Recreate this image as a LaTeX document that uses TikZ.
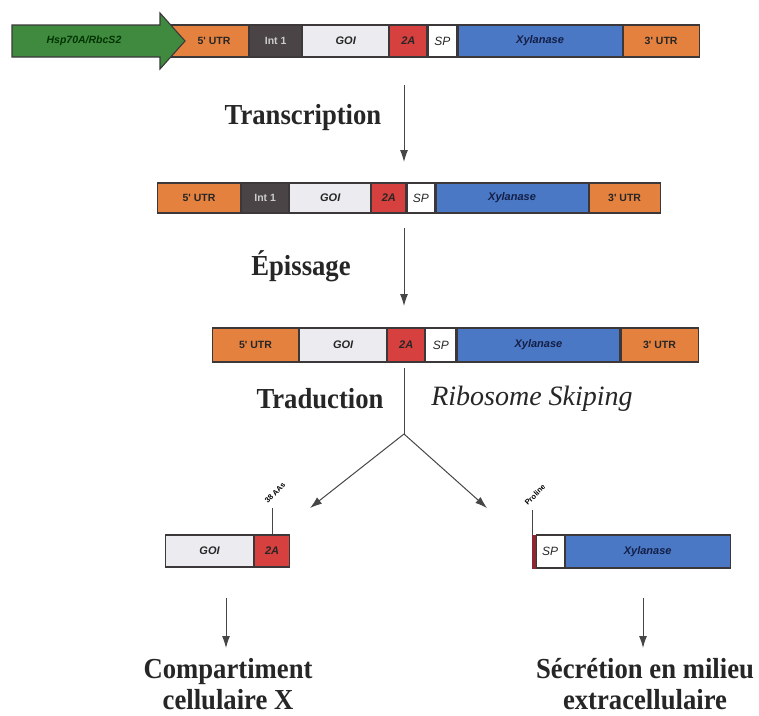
\documentclass[tikz,border=0pt]{standalone}
\usepackage{fontspec}
\setmainfont{Liberation Serif}
\newfontfamily\boxfont{Liberation Sans}
\newfontfamily\labfont[FakeStretch=0.92]{Liberation Serif}
\usetikzlibrary{arrows.meta}
\definecolor{utr}{RGB}{229,129,63}
\definecolor{intc}{RGB}{74,68,70}
\definecolor{goic}{RGB}{236,235,239}
\definecolor{twoa}{RGB}{214,64,62}
\definecolor{xylc}{RGB}{74,120,196}
\definecolor{promc}{RGB}{64,138,64}
\definecolor{edge}{RGB}{60,56,58}
\definecolor{linec}{RGB}{70,70,70}
\definecolor{navy}{RGB}{20,30,70}
\definecolor{strip}{RGB}{140,40,50}
\tikzset{
  seg/.style={draw=edge, line width=1.1pt, inner sep=0pt, anchor=west, font=\boxfont\bfseries\fontsize{10.5}{12}\selectfont, text=black!85},
  segi/.style={seg, font=\boxfont\bfseries\itshape\fontsize{11}{12}\selectfont},
  spbox/.style={seg, fill=white, font=\boxfont\itshape\fontsize{12}{12}\selectfont},
  flow/.style={draw=linec, line width=1pt, -{Latex[length=12pt,width=8pt]}},
  plain/.style={draw=linec, line width=1pt},
  biglab/.style={font=\labfont\bfseries\fontsize{29}{31}\selectfont, text=black!85, align=center, inner sep=0pt},
  tick/.style={draw=linec, line width=0.8pt},
  tinylab/.style={font=\boxfont\bfseries\fontsize{7.5}{8}\selectfont, rotate=45, anchor=south west, inner sep=0pt}
}
\begin{document}
\begin{tikzpicture}[x=1pt,y=-1pt]
\useasboundingbox (0,0) rectangle (759,715);
% ---------- row 1 : DNA construct ----------
\node[seg, fill=utr, minimum width=88pt, minimum height=32pt] (a1) at (160,41) {};
\node[seg, fill=intc, text=white!80!black, minimum width=52pt, minimum height=32pt] (b1) at (a1.east) {Int 1};
\node[segi, fill=goic, minimum width=86pt, minimum height=32pt] (c1) at (b1.east) {GOI};
\node[segi, fill=twoa, minimum width=37pt, minimum height=32pt] (d1) at (c1.east) {2A};
\node[spbox, minimum width=29pt, minimum height=32pt] (e1) at (d1.east) {SP};
\node[segi, fill=xylc, text=navy, minimum width=164pt, minimum height=32pt] (f1) at (e1.east) {Xylanase};
\node[seg, fill=utr, minimum width=76pt, minimum height=32pt] (g1) at (f1.east) {3' UTR};
\node[font=\boxfont\bfseries\fontsize{10.5}{12}\selectfont, text=black!85] (a1t) at (214,41) {5' UTR};
\draw[draw=edge, line width=1.1pt, fill=promc] (12,25) -- (160,25) -- (160,13) -- (185,41) -- (160,69) -- (160,57) -- (12,57) -- cycle;
\node[font=\boxfont\bfseries\itshape\fontsize{10.5}{12}\selectfont, text=black!80!green] (prom) at (84,41) {Hsp70A/RbcS2};
% ---------- row 2 : pre-mRNA ----------
\node[seg, fill=utr, minimum width=83pt, minimum height=30pt] (a2) at (157,198) {5' UTR};
\node[seg, fill=intc, text=white!80!black, minimum width=47pt, minimum height=30pt] (b2) at (a2.east) {Int 1};
\node[segi, fill=goic, minimum width=81pt, minimum height=30pt] (c2) at (b2.east) {GOI};
\node[segi, fill=twoa, minimum width=34pt, minimum height=30pt] (d2) at (c2.east) {2A};
\node[spbox, minimum width=28pt, minimum height=30pt] (e2) at (d2.east) {SP};
\node[segi, fill=xylc, text=navy, minimum width=152pt, minimum height=30pt] (f2) at (e2.east) {Xylanase};
\node[seg, fill=utr, minimum width=71pt, minimum height=30pt] (g2) at (f2.east) {3' UTR};
% ---------- row 3 : mRNA ----------
\node[seg, fill=utr, minimum width=86pt, minimum height=34pt] (a3) at (212,345) {5' UTR};
\node[segi, fill=goic, minimum width=87pt, minimum height=34pt] (c3) at (a3.east) {GOI};
\node[segi, fill=twoa, minimum width=37pt, minimum height=34pt] (d3) at (c3.east) {2A};
\node[spbox, minimum width=30pt, minimum height=34pt] (e3) at (d3.east) {SP};
\node[segi, fill=xylc, text=navy, minimum width=163pt, minimum height=34pt] (f3) at (e3.east) {Xylanase};
\node[seg, fill=utr, minimum width=77pt, minimum height=34pt] (g3) at (f3.east) {3' UTR};
% ---------- products ----------
\node[segi, fill=goic, minimum width=88pt, minimum height=32pt] (c4) at (165,551) {GOI};
\node[segi, fill=twoa, minimum width=35pt, minimum height=32pt] (d4) at (c4.east) {2A};
\node[seg, fill=strip, draw=strip, line width=0.5pt, minimum width=3pt, minimum height=33pt] (s5) at (532,551.5) {};
\node[spbox, minimum width=28pt, minimum height=33pt] (e5) at (s5.east) {SP};
\node[segi, fill=xylc, text=navy, minimum width=165pt, minimum height=33pt] (f5) at (e5.east) {Xylanase};
% tick marks and tiny labels
\coordinate (t4) at (272,508);
\coordinate (t5) at (532,510);
\draw[tick] (t4) -- (t4 |- d4.north);
\draw[tick] (t5) -- (t5 |- s5.north);
\node[tinylab] (aa) at (268,504) {38 AAs};
\node[tinylab] (pro) at (528,506) {Proline};
% ---------- arrows ----------
\coordinate (tr1) at (404,85);
\coordinate (tr2) at (404,162);
\coordinate (ep1) at (404,228);
\coordinate (ep2) at (404,306);
\coordinate (td1) at (404,368);
\coordinate (split) at (404,434);
\coordinate (lt) at (310,508);
\coordinate (rt) at (487,508);
\coordinate (bl1) at (226,598);
\coordinate (bl2) at (226,648);
\coordinate (br1) at (643,598);
\coordinate (br2) at (643,648);
\draw[flow] (tr1) -- (tr2);
\draw[flow] (ep1) -- (ep2);
\draw[plain] (td1) -- (split);
\draw[flow] (split) -- (lt);
\draw[flow] (split) -- (rt);
\draw[flow] (bl1) -- (bl2);
\draw[flow] (br1) -- (br2);
% ---------- labels ----------
\node[biglab] (ltr) at (303,118) {Transcription};
\node[biglab] (lep) at (301,266) {Épissage};
\node[biglab] (ltd) at (320,399) {Traduction};
\node[font=\fontsize{28}{32}\selectfont\itshape, text=black!85, inner sep=0pt] (lrs) at (532,399) {Ribosome Skiping};
\node[biglab] (lcomp) at (228,684) {Compartiment\\cellulaire X};
\node[biglab] (lsec) at (645,684) {Sécrétion en milieu\\extracellulaire};
\end{tikzpicture}
\end{document}
